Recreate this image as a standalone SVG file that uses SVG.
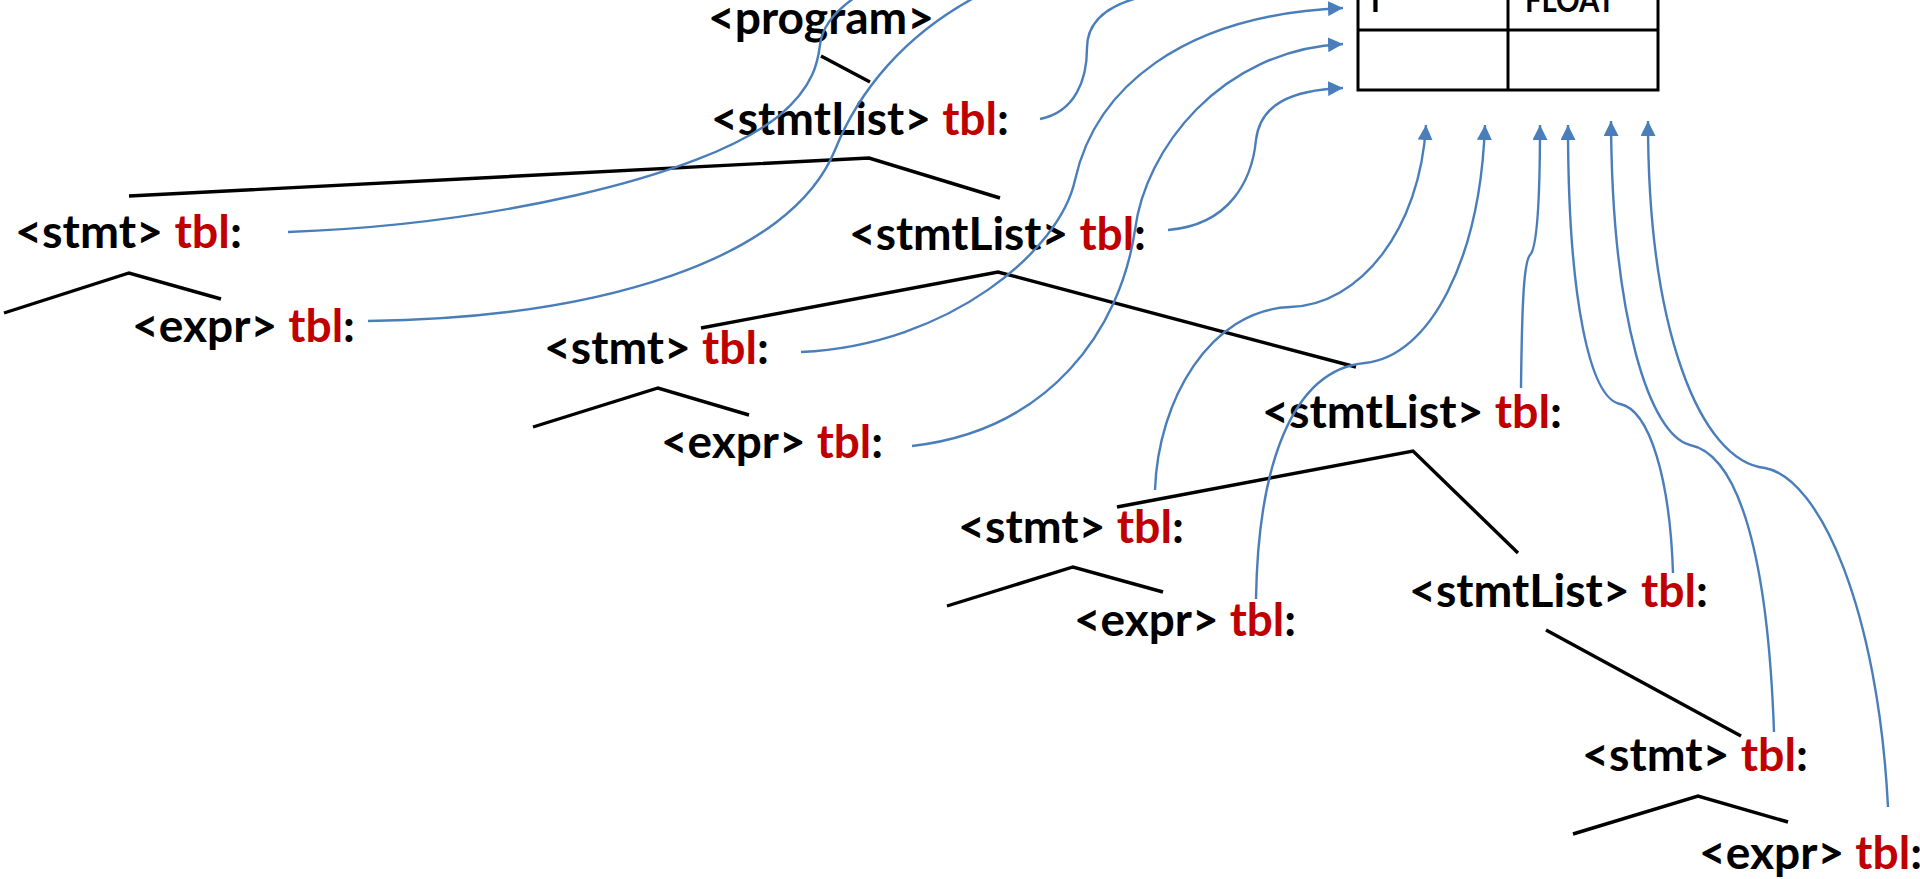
<svg xmlns="http://www.w3.org/2000/svg" width="1920" height="879" viewBox="0 0 1920 879">
  <style>
    .lbl { font-family: Lato, "Liberation Sans", sans-serif; font-weight: 700; font-size: 45px; fill: #000; }
    .tbl { fill: #C00000; }
    .edge { fill: none; stroke: #000; stroke-width: 3.4; stroke-linejoin: miter; }
    .link { fill: none; stroke: #4A7EBB; stroke-width: 2.4; }
    .cell { fill: none; stroke: #000; stroke-width: 3; }
    .cellText { font-family: Lato, "Liberation Sans", sans-serif; font-weight: 700; font-size: 34px; fill: #000; }
  </style>
  <defs>
    <marker id="arrow" viewBox="0 0 15 15" refX="15" refY="7.5" markerWidth="15" markerHeight="15" markerUnits="userSpaceOnUse" orient="auto">
      <path d="M0,0 L15,7.5 L0,15 z" fill="#4A7EBB"/>
    </marker>
  </defs>
  <rect width="1920" height="879" fill="#fff"/>

  <!-- symbol table -->
  <g id="symbol-table">
    <rect class="cell" x="1358" y="-40" width="300" height="130"/>
    <line class="cell" x1="1358" y1="30" x2="1658" y2="30"/>
    <line class="cell" x1="1508" y1="-40" x2="1508" y2="90"/>
    <text class="cellText" x="1370" y="12">f</text>
    <text class="cellText" x="1525" y="12" textLength="90" lengthAdjust="spacingAndGlyphs">FLOAT</text>
  </g>

  <!-- parse tree edges -->
  <g id="tree-edges">
    <line class="edge" x1="821" y1="56" x2="870" y2="82"/>
    <polyline class="edge" points="129,196 869,158 1000,198"/>
    <polyline class="edge" points="4,313 129,273 221,299"/>
    <polyline class="edge" points="701,328 998,272 1356,367"/>
    <polyline class="edge" points="533,427 658,388 749,415"/>
    <polyline class="edge" points="1117,507 1413,451 1518,553"/>
    <polyline class="edge" points="947,606 1073,567 1163,592"/>
    <line class="edge" x1="1546" y1="630" x2="1741" y2="736"/>
    <polyline class="edge" points="1573,834 1698,796 1788,822"/>
  </g>

  <!-- tree nodes -->
  <g id="node-program">
    <text class="lbl" x="708" y="34" textLength="226" lengthAdjust="spacingAndGlyphs">&lt;program&gt;</text>
  </g>
  <g id="node-stmtList-1">
    <text class="lbl" x="711" y="135" textLength="298" lengthAdjust="spacingAndGlyphs">&lt;stmtList&gt; <tspan class="tbl">tbl</tspan>:</text>
  </g>
  <g id="node-stmt-1">
    <text class="lbl" x="15" y="248" textLength="227" lengthAdjust="spacingAndGlyphs">&lt;stmt&gt; <tspan class="tbl">tbl</tspan>:</text>
  </g>
  <g id="node-expr-1">
    <text class="lbl" x="132" y="342" textLength="223" lengthAdjust="spacingAndGlyphs">&lt;expr&gt; <tspan class="tbl">tbl</tspan>:</text>
  </g>
  <g id="node-stmtList-2">
    <text class="lbl" x="849" y="250" textLength="297" lengthAdjust="spacingAndGlyphs">&lt;stmtList&gt; <tspan class="tbl">tbl</tspan>:</text>
  </g>
  <g id="node-stmt-2">
    <text class="lbl" x="544" y="364" textLength="225" lengthAdjust="spacingAndGlyphs">&lt;stmt&gt; <tspan class="tbl">tbl</tspan>:</text>
  </g>
  <g id="node-expr-2">
    <text class="lbl" x="661" y="458" textLength="222" lengthAdjust="spacingAndGlyphs">&lt;expr&gt; <tspan class="tbl">tbl</tspan>:</text>
  </g>
  <g id="node-stmtList-3">
    <text class="lbl" x="1262" y="428" textLength="300" lengthAdjust="spacingAndGlyphs">&lt;stmtList&gt; <tspan class="tbl">tbl</tspan>:</text>
  </g>
  <g id="node-stmt-3">
    <text class="lbl" x="958" y="543" textLength="226" lengthAdjust="spacingAndGlyphs">&lt;stmt&gt; <tspan class="tbl">tbl</tspan>:</text>
  </g>
  <g id="node-expr-3">
    <text class="lbl" x="1074" y="636" textLength="222" lengthAdjust="spacingAndGlyphs">&lt;expr&gt; <tspan class="tbl">tbl</tspan>:</text>
  </g>
  <g id="node-stmtList-4">
    <text class="lbl" x="1409" y="607" textLength="299" lengthAdjust="spacingAndGlyphs">&lt;stmtList&gt; <tspan class="tbl">tbl</tspan>:</text>
  </g>
  <g id="node-stmt-4">
    <text class="lbl" x="1582" y="771" textLength="226" lengthAdjust="spacingAndGlyphs">&lt;stmt&gt; <tspan class="tbl">tbl</tspan>:</text>
  </g>
  <g id="node-expr-4">
    <text class="lbl" x="1699" y="869" textLength="223" lengthAdjust="spacingAndGlyphs">&lt;expr&gt; <tspan class="tbl">tbl</tspan>:</text>
  </g>

  <!-- tbl pointers into the symbol table -->
  <g id="connectors">
    <path class="link" d="M288,232 C480,225 700,180 780,115 C815,85 818,60 820,45 C822,25 840,5 870,-12"/>
    <path class="link" d="M368,321 C600,318 790,260 835,150 C855,100 900,30 1000,-15"/>
    <path class="link" d="M1040,119 C1075,112 1087,80 1087,48 C1087,20 1110,3 1150,-5"/>
    <path class="link" marker-end="url(#arrow)" d="M801,352 C950,345 1060,250 1075,180 C1095,90 1180,15 1343,8"/>
    <path class="link" marker-end="url(#arrow)" d="M912,446 C1050,430 1120,330 1135,230 C1145,150 1220,50 1343,44"/>
    <path class="link" marker-end="url(#arrow)" d="M1168,230 C1230,225 1252,180 1256,140 C1260,105 1290,90 1343,88"/>
    <path class="link" marker-end="url(#arrow)" d="M1155,490 C1158,400 1210,310 1290,307 C1360,305 1420,230 1426,125"/>
    <path class="link" marker-end="url(#arrow)" d="M1256,599 C1258,470 1290,370 1365,363 C1430,356 1480,260 1485,125"/>
    <path class="link" marker-end="url(#arrow)" d="M1521,388 C1522,300 1524,262 1530,255 C1537,248 1540,200 1540,125"/>
    <path class="link" marker-end="url(#arrow)" d="M1673,573 C1670,480 1650,410 1620,404 C1590,398 1568,300 1568,125"/>
    <path class="link" marker-end="url(#arrow)" d="M1774,732 C1768,560 1740,455 1690,445 C1650,435 1612,320 1611,121"/>
    <path class="link" marker-end="url(#arrow)" d="M1888,807 C1878,610 1820,478 1765,468 C1700,461 1648,330 1648,121"/>
  </g>
</svg>
